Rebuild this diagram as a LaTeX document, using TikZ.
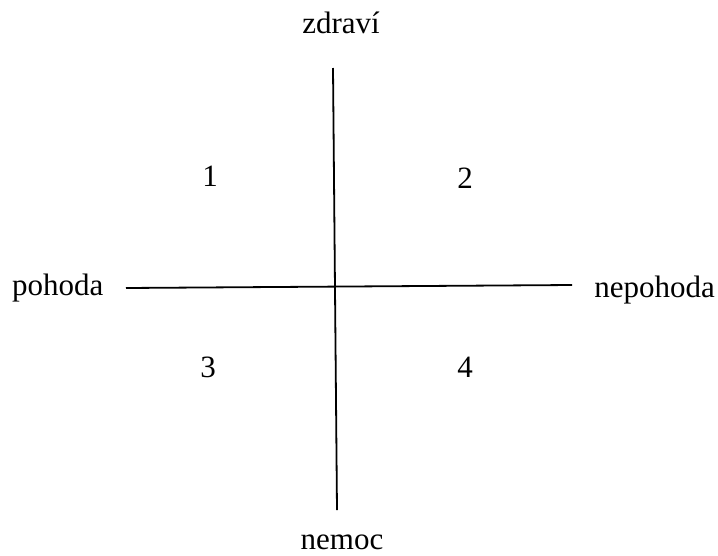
\documentclass[tikz,border=0pt]{standalone}
\usepackage{fontspec}
\setmainfont{Liberation Serif}
\begin{document}
\begin{tikzpicture}[
  x=1pt, y=-1pt,
  font=\fontsize{31}{36}\selectfont,
  lbl/.style={anchor=base, inner sep=0pt},
  axis/.style={line width=1.8pt},
]
  \useasboundingbox (0,0) rectangle (718,555);
  % axis ends
  \coordinate (top) at (333,68);
  \coordinate (bot) at (337,510);
  \coordinate (lft) at (126,288);
  \coordinate (rgt) at (572,285);
  % pole labels
  \node[lbl] (zdravi) at (341,33) {zdraví};
  \node[lbl] (nemoc) at (342,549) {nemoc};
  \node[lbl, anchor=base west] (pohoda) at (12,295) {pohoda};
  \node[lbl, anchor=base east] (nepohoda) at (715,297) {nepohoda};
  % quadrants
  \node[lbl] (q1) at (210,186) {1};
  \node[lbl] (q2) at (465,188) {2};
  \node[lbl] (q3) at (208,377) {3};
  \node[lbl] (q4) at (465,377) {4};
  \draw[axis] (top) -- (bot);
  \draw[axis] (lft) -- (rgt);
\end{tikzpicture}
\end{document}
